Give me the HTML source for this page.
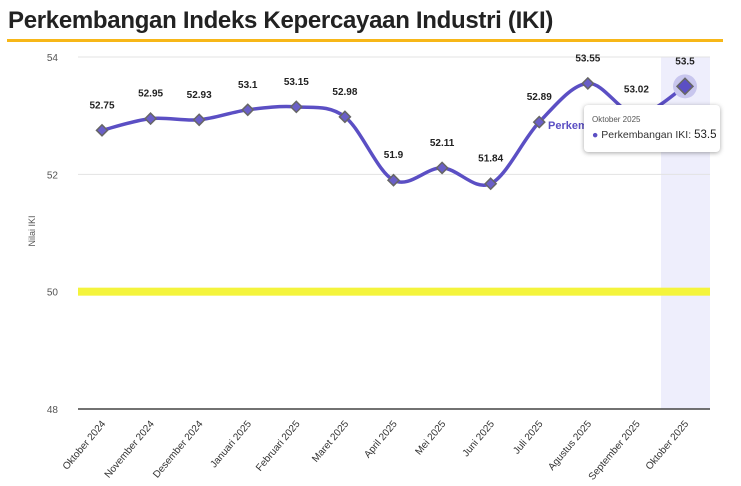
<!DOCTYPE html>
<html><head><meta charset="utf-8"><style>
body{margin:0;background:#fff;width:741px;height:486px;overflow:hidden;font-family:"Liberation Sans",sans-serif}
#title{position:absolute;left:8px;top:7px;font-size:24px;font-weight:bold;color:#222;letter-spacing:-0.3px;white-space:nowrap}
#uline{position:absolute;left:7px;top:39px;width:716px;height:3px;background:#f7b718}
#tip{position:absolute;left:584px;top:105px;width:136px;height:47px;background:#fff;border-radius:4px;box-shadow:0 1px 5px rgba(0,0,0,.35);font-size:10.5px;color:#333}
</style></head><body>
<div id="title">Perkembangan Indeks Kepercayaan Industri (IKI)</div>
<div id="uline"></div>
<svg id="chart" width="741" height="486" style="position:absolute;left:0;top:0"></svg>
<div id="tip">
<div style="position:absolute;left:8px;top:10px;font-size:8px;color:#555">Oktober 2025</div>
<div style="position:absolute;left:8px;top:24px;white-space:nowrap"><span style="color:#5b4fc4">●</span> Perkembangan IKI: <span style="font-size:11.5px;color:#222">53.5</span></div>
</div>
<script>
const categories=["Oktober 2024","November 2024","Desember 2024","Januari 2025","Februari 2025","Maret 2025","April 2025","Mei 2025","Juni 2025","Juli 2025","Agustus 2025","September 2025","Oktober 2025"];
const values=[52.75,52.95,52.93,53.1,53.15,52.98,51.9,52.11,51.84,52.89,53.55,53.02,53.5];
const yTicks=[48,50,52,54];
const NS="http://www.w3.org/2000/svg";
const svg=document.getElementById('chart');
const L=78,R=710,T=57,B=409;
const x=i=>102+i*(685-102)/(categories.length-1);
const y=v=>B-(v-48)/(54-48)*(B-T);
function mk(t,a,p){const e=document.createElementNS(NS,t);for(const k in a)e.setAttribute(k,a[k]);(p||svg).appendChild(e);return e;}
const band=mk('rect',{x:661,y:T,width:R-661,height:B-T,fill:'#eeeefc'});


yTicks.forEach(t=>{
 const g=mk('line',{x1:L,x2:R,y1:y(t),y2:y(t),stroke:t===48?'#444':'#e3e3e3','stroke-width':t===48?1.5:1});
 
 
 const tx=mk('text',{x:58,y:y(t)+4,'font-size':10,fill:'#555','text-anchor':'end'});tx.textContent=t;
 
 
});
const th=mk('rect',{x:L,y:y(50)-4,width:R-L,height:8,fill:'#f4f43c'});


const yt=mk('text',{x:0,y:0,'font-size':9,fill:'#555','text-anchor':'middle',transform:'translate(35,231) rotate(-90)'});yt.textContent='Nilai IKI';


const P=values.map((v,i)=>[x(i),y(v)]);
let d='M'+P[0][0]+','+P[0][1];
for(let i=0;i<P.length-1;i++){const p0=P[i-1]||P[i],p1=P[i],p2=P[i+1],p3=P[i+2]||p2;const k=6;
 d+=' C'+(p1[0]+(p2[0]-p0[0])/k)+','+(p1[1]+(p2[1]-p0[1])/k)+' '+(p2[0]-(p3[0]-p1[0])/k)+','+(p2[1]-(p3[1]-p1[1])/k)+' '+p2[0]+','+p2[1];}
const ln=mk('path',{d:d,fill:'none',stroke:'#5b4fc4','stroke-width':3.5});


const sl=mk('text',{x:548,y:129,'font-size':11,'font-weight':'bold',fill:'#5b4fc4'});sl.textContent='Perkembangan IKI';


values.forEach((v,i)=>{
 const cx=x(i),cy=y(v),last=i===values.length-1;
 if(last){const h=mk('circle',{cx:cx,cy:cy,r:12,fill:'#c8c6ee'});}
 const s=last?8:5.5;
 const m=mk('path',{d:`M${cx},${cy-s}L${cx+s},${cy}L${cx},${cy+s}L${cx-s},${cy}Z`,fill:last?'#5b4fc4':'#6a5fc8',stroke:'#666','stroke-width':1.5});
 
 
 const lb=mk('text',{x:cx,y:cy-22,'font-size':10,'font-weight':'bold',fill:'#222','text-anchor':'middle'});lb.textContent=v;
 
 
 const xl=mk('text',{x:0,y:0,'font-size':10,fill:'#333','text-anchor':'end',transform:`translate(${cx+4},${424}) rotate(-50)`});xl.textContent=categories[i];
 
 
});
</script>
</body></html>
